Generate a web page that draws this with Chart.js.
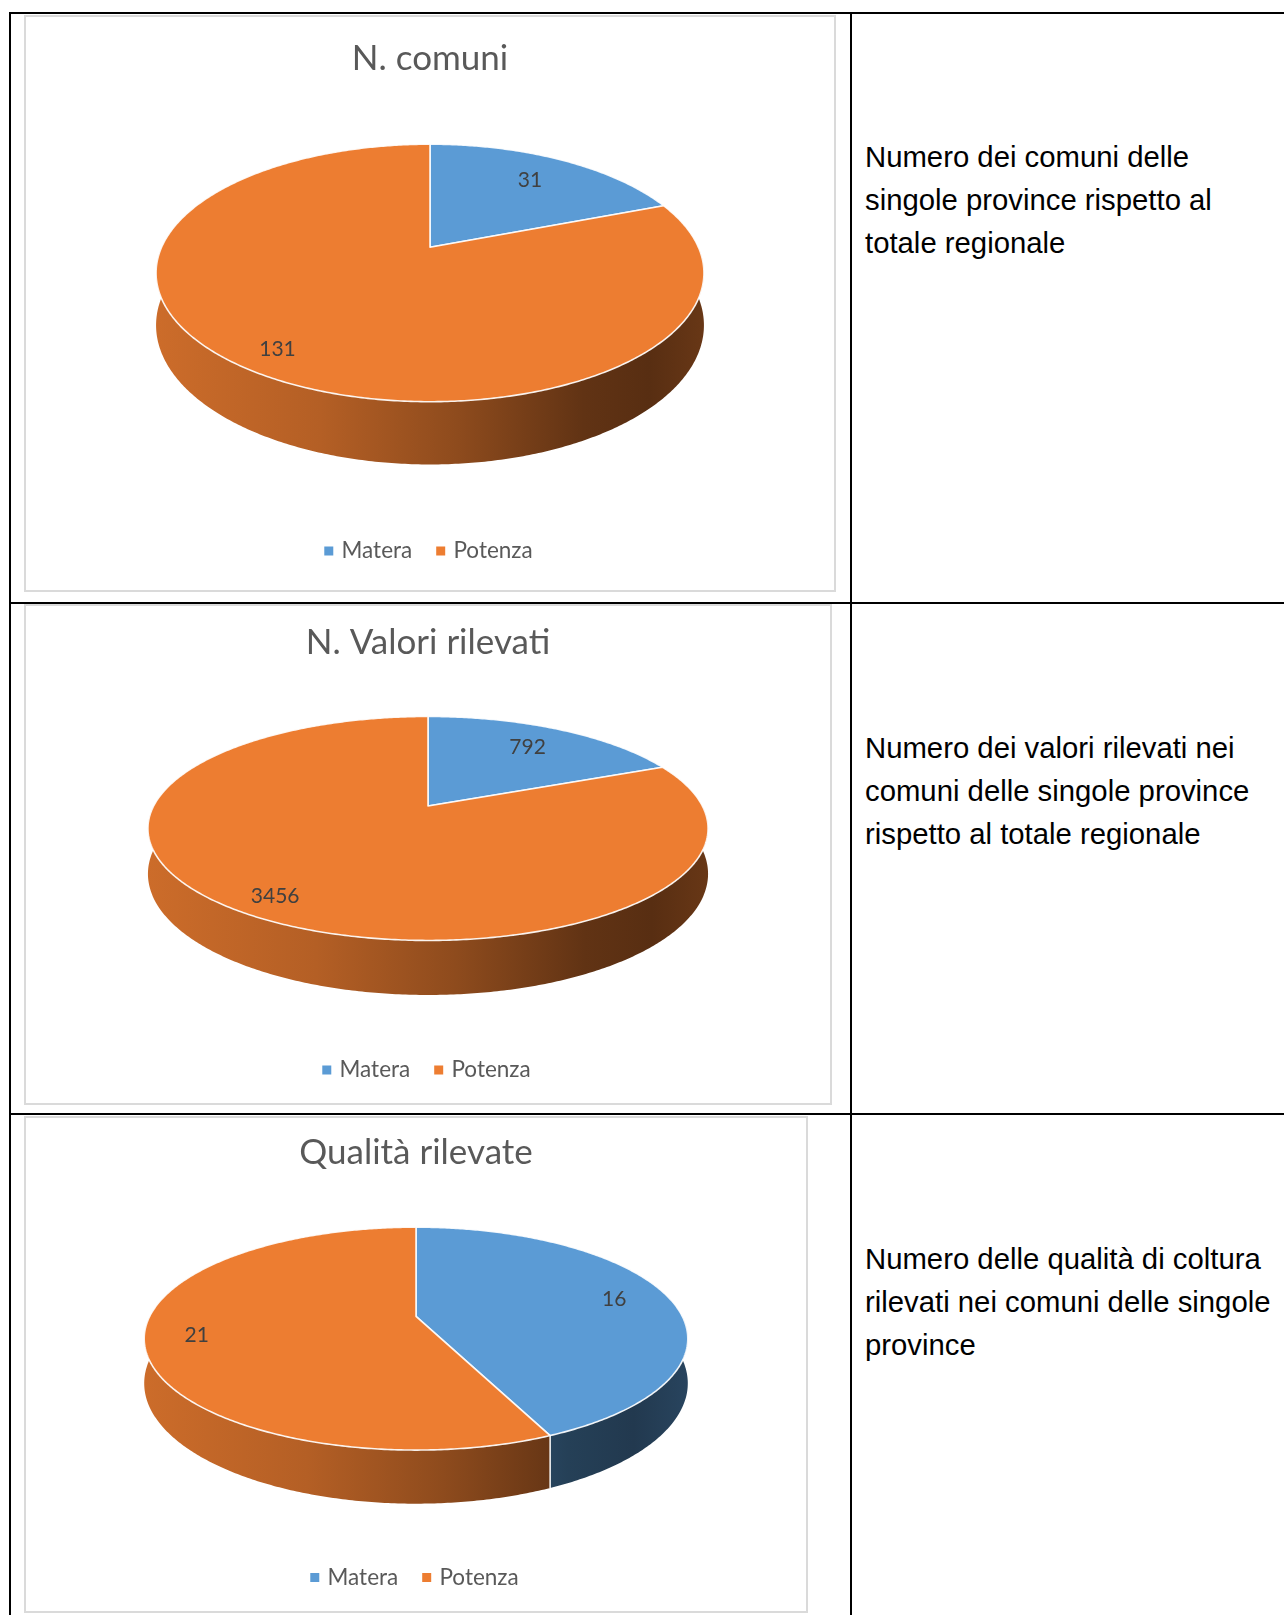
<!DOCTYPE html>
<html lang="it">
<head>
<meta charset="utf-8">
<title>Comuni, valori e qualità rilevati per provincia</title>
<script src="https://cdn.jsdelivr.net/npm/chart.js@4.4.0/dist/chart.umd.min.js"></script>
<style>
  html, body { margin: 0; padding: 0; background: #fff; }
  body { width: 1284px; height: 1615px; position: relative; overflow: hidden; }
  .rule { position: absolute; background: #000; }
  .box { position: absolute; box-sizing: border-box; border: 2px solid #dadada; background: #fff; }
  .box canvas { display: block; }
  .note {
    position: absolute; left: 865px;
    font-family: 'Liberation Sans', Arial, sans-serif;
    font-size: 29.3px; line-height: 43px; color: #000; white-space: nowrap;
  }
</style>
</head>
<body>
  <!-- table grid -->
  <div class="rule" style="left:9px; top:12px; width:1275px; height:2px"></div>
  <div class="rule" style="left:9px; top:12px; width:2px; height:1603px"></div>
  <div class="rule" style="left:850px; top:12px; width:2px; height:1603px"></div>
  <div class="rule" style="left:9px; top:602px; width:1275px; height:2px"></div>
  <div class="rule" style="left:9px; top:1113px; width:1275px; height:2px"></div>

  <div class="box" style="left:24px; top:15px; width:812px; height:577px"><canvas id="chart0" width="808" height="573"></canvas></div>
  <div class="box" style="left:24px; top:604px; width:808px; height:501px"><canvas id="chart1" width="804" height="497"></canvas></div>
  <div class="box" style="left:24px; top:1116px; width:784px; height:497px"><canvas id="chart2" width="780" height="493"></canvas></div>

  <div class="note" style="top:135px">Numero dei comuni delle<br>singole province rispetto al<br>totale regionale</div>
  <div class="note" style="top:726px">Numero dei valori rilevati nei<br>comuni delle singole province<br>rispetto al totale regionale</div>
  <div class="note" style="top:1237px">Numero delle qualità di coltura<br>rilevati nei comuni delle singole<br>province</div>

<script>
const provinces = ['Matera', 'Potenza'];
const chartTitles = ['N. comuni', 'N. Valori rilevati', 'Qualità rilevate'];
const materaValues = [31, 792, 16];
const potenzaValues = [131, 3456, 21];
const sliceColors = ['#5b9bd5', '#ed7d31'];

// how dark the outer wall gets from left to right
const wallShade = [[0, 0.86], [0.3, 0.76], [0.55, 0.6], [0.78, 0.41], [0.9, 0.37], [1, 0.44]];

function hexToRgb(hex) {
    const n = parseInt(hex.slice(1), 16);
    return [(n >> 16) & 255, (n >> 8) & 255, n & 255];
}

// Draws the pie as a tilted disc with a wall, using the arcs chart.js laid out
const pie3d = {
    id: 'pie3d',
    beforeDatasetsDraw(chart, args, opts) {
        const arcs = chart.getDatasetMeta(0).data;
        if (!arcs.length) return;
        const ctx = chart.ctx;
        const dataset = chart.data.datasets[0];
        const R = arcs[0].outerRadius;
        const p = opts.perspective;
        const B = R * opts.tilt;
        const D = R * opts.depth;
        const cx = arcs[0].x;
        // put the whole solid (top face + wall) in the middle of the chart area
        const cy = arcs[0].y - ((B + D) / (1 - p) - B / (1 + p)) / 2;

        // a: angle clockwise from 12 o'clock, r: fraction of radius, h: drop below top face
        const project = (a, r, h) => {
            const u = r * Math.sin(a);
            const v = -r * Math.cos(a);
            const w = 1 - p * v;
            return { x: cx + R * u / w, y: cy + (B * v + h) / w };
        };
        const trace = (from, to, r, h, first) => {
            const n = Math.max(2, Math.ceil(Math.abs(to - from) / 0.01));
            for (let k = 0; k <= n; k++) {
                const pt = project(from + (to - from) * k / n, r, h);
                if (k === 0 && first) ctx.moveTo(pt.x, pt.y);
                else ctx.lineTo(pt.x, pt.y);
            }
        };

        const slices = arcs.map((arc, i) => ({
            a0: arc.startAngle + Math.PI / 2,
            a1: arc.endAngle + Math.PI / 2,
            color: dataset.backgroundColor[i],
            value: dataset.data[i]
        }));
        const total = slices.reduce((s, d) => s + d.value, 0);
        const halfWidth = R / Math.sqrt(1 - p * p);

        ctx.save();

        // outer wall, front half only
        slices.forEach(s => {
            const lo = Math.max(s.a0, Math.PI / 2);
            const hi = Math.min(s.a1, Math.PI * 1.5);
            if (hi <= lo) return;
            const rgb = hexToRgb(s.color);
            const grad = ctx.createLinearGradient(cx - halfWidth, 0, cx + halfWidth, 0);
            wallShade.forEach(([pos, k]) => {
                grad.addColorStop(pos, 'rgb(' + rgb.map(c => Math.round(c * k)).join(',') + ')');
            });
            ctx.beginPath();
            trace(lo, hi, 1, 0, true);
            trace(hi, lo, 1, D, false);
            ctx.closePath();
            ctx.fillStyle = grad;
            ctx.fill();
        });

        // seams on the wall where two slices meet
        ctx.strokeStyle = opts.edgeColor;
        ctx.lineWidth = opts.edgeWidth;
        slices.forEach(s => {
            if (s.a0 > Math.PI / 2 && s.a0 < Math.PI * 1.5) {
                const t = project(s.a0, 1, 0), b = project(s.a0, 1, D);
                ctx.beginPath();
                ctx.moveTo(t.x, t.y);
                ctx.lineTo(b.x, b.y);
                ctx.stroke();
            }
        });

        // top face
        ctx.lineJoin = 'round';
        slices.forEach(s => {
            ctx.beginPath();
            ctx.moveTo(cx, cy);
            trace(s.a0, s.a1, 1, 0, false);
            ctx.closePath();
            ctx.fillStyle = s.color;
            ctx.fill();
            ctx.stroke();
        });

        // value labels
        ctx.font = opts.labelFont;
        ctx.fillStyle = opts.labelColor;
        ctx.textAlign = 'center';
        ctx.textBaseline = 'middle';
        slices.forEach(s => {
            const r = opts.labelRadius + opts.labelSpread * s.value / total;
            const pt = project((s.a0 + s.a1) / 2, r, 0);
            ctx.fillText(String(s.value), pt.x, pt.y);
        });

        ctx.restore();
        return false;
    }
};

// per chart: title padding, bottom gap, radius and how flat/deep the disc is
const chartLayouts = [
    { titleTop: 20.7, titleBottom: 16.2, bottom: 17.75, radius: 268.4, tilt: 0.4605, depth: 0.187 },
    { titleTop: 15.5, titleBottom: 16.2, bottom: 11.75, radius: 274.4, tilt: 0.3918, depth: 0.159 },
    { titleTop: 14.0, titleBottom: 17.6, bottom: 12.25, radius: 266.3, tilt: 0.4018, depth: 0.161 }
];

chartTitles.forEach((title, i) => {
    const lay = chartLayouts[i];
    new Chart(document.getElementById('chart' + i), {
        type: 'pie',
        data: {
            labels: provinces,
            datasets: [{
                data: [materaValues[i], potenzaValues[i]],
                backgroundColor: sliceColors,
                borderWidth: 0,
                radius: lay.radius
            }]
        },
        options: {
            responsive: false,
            animation: false,
            events: [],
            layout: { padding: { top: 0, left: 0, right: 0, bottom: lay.bottom } },
            plugins: {
                title: {
                    display: true,
                    text: title,
                    color: '#595959',
                    font: { family: 'Lato', size: 35, weight: 'normal' },
                    padding: { top: lay.titleTop, bottom: lay.titleBottom }
                },
                legend: {
                    position: 'bottom',
                    labels: {
                        usePointStyle: true,
                        pointStyle: 'rect',
                        boxWidth: 3,
                        boxHeight: 9,
                        padding: 27,
                        color: '#595959',
                        font: { family: 'Lato', size: 22.5 }
                    }
                },
                tooltip: { enabled: false },
                pie3d: {
                    perspective: 0.2,
                    tilt: lay.tilt,
                    depth: lay.depth,
                    edgeColor: 'rgba(255, 255, 255, 0.9)',
                    edgeWidth: 1.6,
                    labelFont: '21px Lato',
                    labelColor: '#404040',
                    labelRadius: 0.70,
                    labelSpread: 0.2
                }
            }
        },
        plugins: [pie3d]
    });
});
</script>
</body>
</html>
